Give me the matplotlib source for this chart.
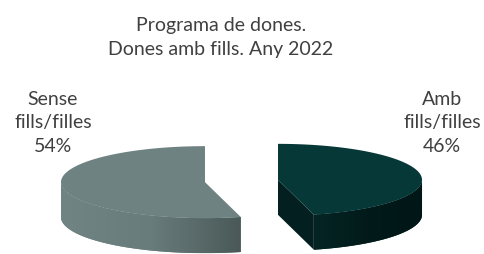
import numpy as np
import matplotlib
matplotlib.use("Agg")
import matplotlib.pyplot as plt
from matplotlib.patches import Polygon
from matplotlib.colors import LinearSegmentedColormap

# chart data
title = "Programa de dones.\nDones amb fills. Any 2022"
categories = ["Amb\nfills/filles", "Sense\nfills/filles"]
values = [46, 54]
top_colors = ["#073838", "#6E8281"]
side_colors = [["#052524", "#021A1A", "#011616"], ["#708483", "#687C7B", "#4A5958"]]
cut_colors = ["#031F1F", "#3F4C4B"]
label_pos = [(442, 152), (53, 152)]

# 3d pie geometry (pixels)
W, H = 484, 255
cx, cy = 241.5, 182
rx, ry = 144, 36
depth = 35
explode = 36.8

plt.rcParams['font.family'] = ['Lato', 'DejaVu Sans']

fig = plt.figure(figsize=(W / 100, H / 100), dpi=100)
ax = fig.add_axes([0, 0, 1, 1])
ax.set_xlim(0, W)
ax.set_ylim(H, 0)
ax.axis('off')


def pt(c, a):
    # a = degrees clockwise from 12 o'clock
    r = np.radians(a)
    return c[0] + rx * np.sin(r), c[1] - ry * np.cos(r)


def gradient_fill(poly, colors, x0, x1):
    ax.add_patch(poly)
    grad = np.linspace(0, 1, 256)[None, :]
    cm = LinearSegmentedColormap.from_list("g", colors)
    ys = poly.get_xy()[:, 1]
    im = ax.imshow(grad, cmap=cm, extent=(x0, x1, ys.max(), ys.min()),
                   aspect='auto', interpolation='bilinear', zorder=poly.get_zorder())
    im.set_clip_path(poly)


total = float(sum(values))
start = 0.0
slices = []
for i, v in enumerate(values):
    a1 = start
    a2 = start + 360.0 * v / total
    start = a2
    slices.append((i, a1, a2))

# grey slice first, then the green one
for i, a1, a2 in reversed(slices):
    m = np.radians((a1 + a2) / 2)
    c = (cx + explode * np.sin(m), cy - explode * (ry / rx) * np.cos(m))
    z = 2 if i == 0 else 1

    # cut faces facing the viewer
    for a, vis in [(a1, np.sin(np.radians(a1)) < -1e-6), (a2, np.sin(np.radians(a2)) > 1e-6)]:
        if vis:
            p = pt(c, a)
            quad = [c, p, (p[0], p[1] + depth), (c[0], c[1] + depth)]
            ax.add_patch(Polygon(quad, closed=True, fc=cut_colors[i], ec='none', zorder=z))

    # outer side (front half of the rim), shaded left to right
    s1, s2 = max(a1, 90), min(a2, 270)
    if s2 > s1:
        aa = np.linspace(s1, s2, 120)
        top = np.array([pt(c, a) for a in aa])
        bot = top[::-1] + [0, depth]
        side = Polygon(np.vstack([top, bot]), closed=True, fc=side_colors[i][0], ec='none', zorder=z)
        xs = top[:, 0]
        gradient_fill(side, side_colors[i], xs.min(), xs.max())

    # top face
    aa = np.linspace(a1, a2, 200)
    pts = [c] + [pt(c, a) for a in aa]
    ax.add_patch(Polygon(pts, closed=True, fc=top_colors[i], ec='none', zorder=z + 0.1))

    lx, ly = label_pos[i]
    ax.text(lx, ly, f"{categories[i]}\n{values[i]}%", ha='center', va='baseline',
            fontsize=14, color='#404040', linespacing=1.48, multialignment='center')

ax.text(221, 55, title, ha='center', va='baseline', fontsize=14, color='#404040',
        linespacing=1.52, multialignment='center')

fig.savefig("out.png", dpi=100)
